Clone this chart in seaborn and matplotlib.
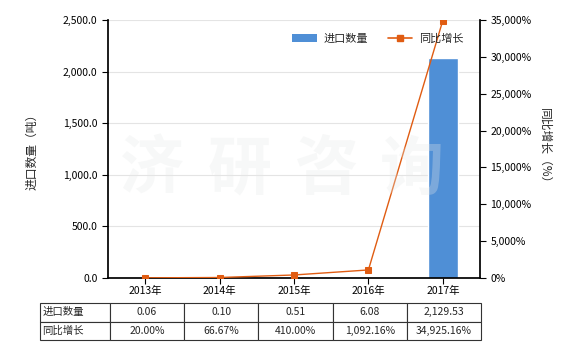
import matplotlib
matplotlib.use("Agg")
import matplotlib.pyplot as plt
import seaborn as sns
import pandas as pd
from matplotlib.ticker import FuncFormatter, MultipleLocator
from matplotlib.patches import Patch
from matplotlib.lines import Line2D

years = ["2013年", "2014年", "2015年", "2016年", "2017年"]
qty = [0.06, 0.10, 0.51, 6.08, 2129.53]
growth = [20.00, 66.67, 410.00, 1092.16, 34925.16]
qty_labels = ["0.06", "0.10", "0.51", "6.08", "2,129.53"]
growth_labels = ["20.00%", "66.67%", "410.00%", "1,092.16%", "34,925.16%"]
row_names = ["进口数量", "同比增长"]

sns.set_theme(style="white")
plt.rcParams["font.family"] = ["Noto Sans CJK SC", "DejaVu Sans"]
plt.rcParams["axes.unicode_minus"] = False

bar_color = "#4f8fd6"
line_color = "#e05c12"
fs = 7.5

fig = plt.figure(figsize=(5.8, 3.5), dpi=100)
ax = fig.add_axes([108/580, 72/350, 372/580, 258/350])

df = pd.DataFrame({"year": years, "qty": qty, "growth": growth})
sns.barplot(data=df, x="year", y="qty", ax=ax, color=bar_color, width=0.4,
            saturation=1, zorder=2)
ax.set_ylim(0, 2500)
ax.yaxis.set_major_locator(MultipleLocator(500))
ax.yaxis.set_major_formatter(FuncFormatter(lambda v, p: f"{v:,.1f}"))
ax.grid(axis="y", color="#e4e4e4", linewidth=0.8, zorder=0)
ax.set_axisbelow(True)
ax.set_xlabel("")
ax.set_ylabel("进口数量（吨）", fontsize=8.5, labelpad=18)
ax.spines["top"].set_visible(False)
ax.spines["left"].set_color("black")
ax.spines["bottom"].set_color("black")
ax.spines["right"].set_visible(False)
ax.tick_params(axis="both", labelsize=fs, length=4, width=0.8, colors="black",
               direction="out", left=True, bottom=True)
ax.tick_params(axis="x", pad=2)

ax2 = ax.twinx()
sns.lineplot(x=list(range(len(years))), y=growth, ax=ax2, color=line_color,
             marker="s", markersize=5, markeredgecolor=line_color, linewidth=1.0,
             zorder=5)
ax2.set_ylim(0, 35000)
ax2.yaxis.set_major_locator(MultipleLocator(5000))
ax2.yaxis.set_major_formatter(FuncFormatter(lambda v, p: f"{v:,.0f}%"))
ax2.set_ylabel("同比增长（%）", fontsize=8.5, rotation=-90, labelpad=14)
ax2.spines["top"].set_visible(False)
ax2.spines["left"].set_visible(False)
ax2.spines["bottom"].set_visible(False)
ax2.spines["right"].set_color("black")
ax2.tick_params(axis="y", labelsize=fs, length=4, width=0.8, colors="black",
                direction="out", right=True)
ax2.set_xlim(-0.5, len(years) - 0.5)
ax.set_xlim(-0.5, len(years) - 0.5)

# legend
handles = [Patch(facecolor=bar_color, edgecolor="none"),
           Line2D([0], [0], color=line_color, marker="s", markersize=4, linewidth=1.2)]
fig.legend(handles, row_names, loc="center",
           bbox_to_anchor=(378/580, 1 - 39/350), ncol=2, frameon=False,
           fontsize=fs + 0.5, handlelength=2.2, columnspacing=1.8, handletextpad=0.6)

# table
cell_text = [[row_names[0]] + qty_labels, [row_names[1]] + growth_labels]
x0 = (40 - 108) / 372
x1 = (481 - 108) / 372
y_top = (278 - 303) / 258
y_bot = (278 - 340) / 258
tbl = ax.table(cellText=cell_text, bbox=[x0, y_bot, x1 - x0, y_top - y_bot],
               cellLoc="center", colWidths=[70] + [74.2] * 5)
tbl.auto_set_font_size(False)
tbl.set_fontsize(fs)
for (r, c), cell in tbl.get_celld().items():
    cell.set_edgecolor("#333333")
    cell.set_linewidth(0.8)
    if c == 0:
        cell.set_text_props(ha="left")
        cell.PAD = 0.03

# watermark
for ch, xc in zip("济研咨询", [152, 240, 327, 412]):
    fig.text(xc / 580, 1 - 170 / 350, ch, fontsize=46, fontweight="bold",
             color="#e6e8e8", alpha=0.3, ha="center", va="center", zorder=10)

fig.savefig("out.png", dpi=100)
